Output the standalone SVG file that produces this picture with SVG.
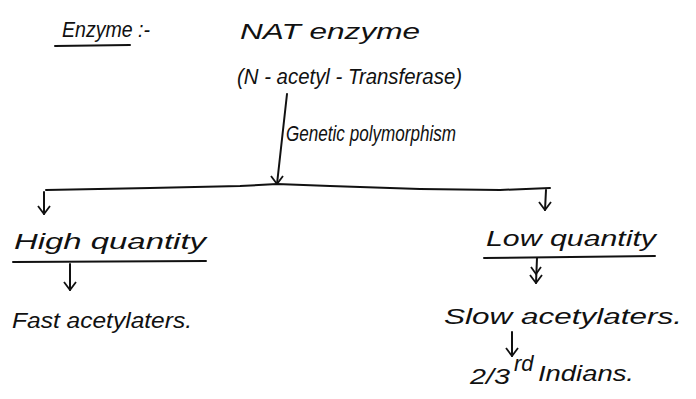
<svg xmlns="http://www.w3.org/2000/svg" width="696" height="399" viewBox="0 0 696 399">
<style>
text{font-family:"Liberation Sans","DejaVu Sans",sans-serif;font-style:italic;fill:#111;font-size:22px}
.ln{stroke:#111;stroke-width:2;fill:none;stroke-linecap:round}
</style>
<defs>
<marker id="dn" viewBox="0 0 14 14" refX="7" refY="13" markerWidth="14" markerHeight="14" markerUnits="userSpaceOnUse" orient="0">
<path d="M1,5 L7,13 L13,5" fill="none" stroke="#111" stroke-width="1.8"/>
</marker>
</defs>
<rect width="696" height="399" fill="#fff"/>
<g id="title">
<text x="62" y="37" font-size="23" textLength="88" lengthAdjust="spacingAndGlyphs">Enzyme :-</text>
<line class="ln" x1="55" y1="46" x2="130" y2="45"/>
</g>
<g id="nat">
<text x="240" y="39" font-size="24" textLength="180" lengthAdjust="spacingAndGlyphs">NAT enzyme</text>
<text x="237" y="84" font-size="24" textLength="225" lengthAdjust="spacingAndGlyphs">(N - acetyl - Transferase)</text>
</g>
<g id="label-genetic">
<text x="286" y="141" font-size="21" textLength="170" lengthAdjust="spacingAndGlyphs">Genetic polymorphism</text>
</g>
<g id="high">
<text x="14" y="249" font-size="23" textLength="192" lengthAdjust="spacingAndGlyphs">High quantity</text>
<line class="ln" x1="13" y1="262" x2="206" y2="261"/>
</g>
<g id="fast">
<text x="12" y="328" font-size="23" textLength="180" lengthAdjust="spacingAndGlyphs">Fast acetylaters.</text>
</g>
<g id="low">
<text x="486" y="246" font-size="23" textLength="170" lengthAdjust="spacingAndGlyphs">Low quantity</text>
<line class="ln" x1="484" y1="258" x2="655" y2="256"/>
</g>
<g id="slow">
<text x="444" y="324" font-size="23" textLength="238" lengthAdjust="spacingAndGlyphs">Slow acetylaters.</text>
</g>
<g id="indians">
<text x="470" y="384" textLength="40" lengthAdjust="spacingAndGlyphs">2/3</text>
<text x="514" y="371" font-size="14">rd</text>
<text x="538" y="381" textLength="96" lengthAdjust="spacingAndGlyphs">Indians.</text>
</g>
<g id="connectors">
<line class="ln" x1="287" y1="94" x2="277" y2="184" marker-end="url(#dn)"/>
<path class="ln" d="M46,190 L150,188 L240,186 L277,184 L330,186 L420,189 L500,190 L550,188"/>
<line class="ln" x1="44" y1="192" x2="44" y2="214" marker-end="url(#dn)"/>
<line class="ln" x1="546" y1="190" x2="545" y2="210" marker-end="url(#dn)"/>
<line class="ln" x1="70" y1="264" x2="70" y2="290" marker-end="url(#dn)"/>
<line class="ln" x1="537" y1="258" x2="536" y2="283" marker-end="url(#dn)"/>
<path d="M531,267 L536,274 L541,267" fill="none" stroke="#111" stroke-width="1.8"/>
<line class="ln" x1="512" y1="332" x2="512" y2="356" marker-end="url(#dn)"/>
</g>
</svg>
